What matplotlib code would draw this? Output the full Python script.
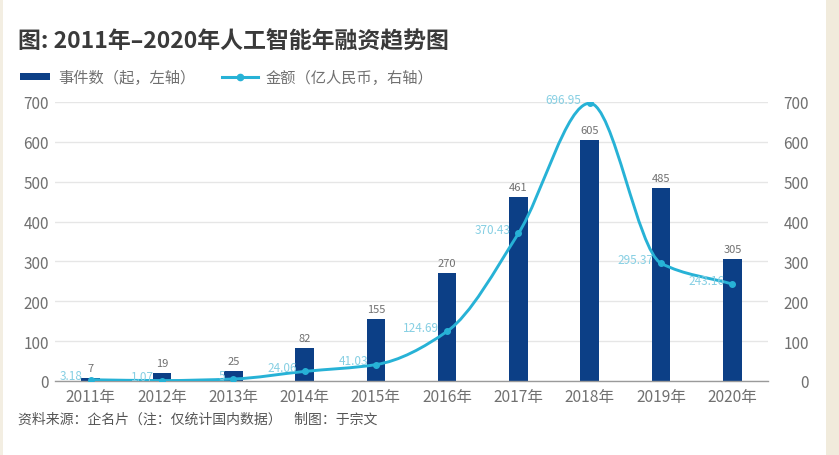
import numpy as np
import matplotlib
matplotlib.use("Agg")
import matplotlib.pyplot as plt
from matplotlib.path import Path
from matplotlib.patches import PathPatch, Rectangle
from matplotlib.lines import Line2D

plt.rcParams['font.family'] = ['Noto Sans CJK SC', 'DejaVu Sans']

years = ["2011年", "2012年", "2013年", "2014年", "2015年",
         "2016年", "2017年", "2018年", "2019年", "2020年"]
events = [7, 19, 25, 82, 155, 270, 461, 605, 485, 305]
amounts = [3.18, 1.07, 5, 24.06, 41.03, 124.69, 370.43, 696.95, 295.37, 243.16]
amount_labels = ["3.18", "1.07", "5", "24.06", "41.03", "124.69",
                 "370.43", "696.95", "295.37", "243.16"]
yticks = [0, 100, 200, 300, 400, 500, 600, 700]

title = "图: 2011年–2020年人工智能年融资趋势图"
legend_bar = "事件数（起，左轴）"
legend_line = "金额（亿人民币，右轴）"
footer = "资料来源：企名片（注：仅统计国内数据）    制图：于宗文"

BAR = "#0c3f86"
LINE = "#27b2d6"
LINE_LBL = "#86cfe3"
TXT = "#707070"

W, H = 839, 456
fig = plt.figure(figsize=(W / 100, H / 100), dpi=100)
fig.patch.set_facecolor("white")

# beige page edges
fig.patches.append(Rectangle((826 / W, 0), 1, 1, transform=fig.transFigure,
                             facecolor="#f1ebdc", edgecolor="none", zorder=0))
fig.patches.append(Rectangle((0, 0), 3 / W, 1, transform=fig.transFigure,
                             facecolor="#f3eee2", edgecolor="none", zorder=0))

left, right, bottom, top = 55 / W, 768 / W, 1 - 382 / H, 1 - 103 / H
ax = fig.add_axes([left, bottom, right - left, top - bottom])
ax2 = ax.twinx()

x = np.arange(len(years))
ax.bar(x, events, width=0.26, color=BAR, zorder=2)
for xi, v in zip(x, events):
    ax.annotate(str(v), (xi, v), xytext=(0, 5), textcoords="offset pixels",
                ha="center", va="bottom", fontsize=8, color=TXT)

ax.set_xlim(-0.5, len(years) - 0.5)
ax.set_ylim(0, 700)
ax2.set_ylim(0, 700)
ax.set_yticks(yticks)
ax2.set_yticks(yticks)
ax.set_xticks(x)
ax.set_xticklabels(years)
for a in (ax, ax2):
    for s in a.spines.values():
        s.set_visible(False)
ax.spines["bottom"].set_visible(True)
ax.spines["bottom"].set_color("#9a9a9a")
ax.spines["bottom"].set_linewidth(1.0)
ax.grid(axis="y", color="#e6e6e6", linewidth=1.0, zorder=0)
ax.set_axisbelow(True)
ax.tick_params(axis="y", length=0, pad=4.5, labelsize=11, labelcolor=TXT)
ax.tick_params(axis="x", length=0, pad=5, labelsize=11.2, labelcolor=TXT)
ax2.tick_params(axis="y", length=0, pad=29.5, labelsize=11, labelcolor=TXT)
for lb in ax2.get_yticklabels():
    lb.set_horizontalalignment("right")

# smooth monotone curve (cubic Bezier through data points)
xs = x.astype(float)
ys = np.array(amounts, dtype=float)
d = np.diff(ys) / np.diff(xs)
m = np.zeros_like(ys)
m[0], m[-1] = d[0], d[-1]
for i in range(1, len(ys) - 1):
    if d[i - 1] * d[i] <= 0:
        m[i] = 0.0
    else:
        m[i] = 2.0 / (1.0 / d[i - 1] + 1.0 / d[i])
verts = [(xs[0], ys[0])]
codes = [Path.MOVETO]
for i in range(len(xs) - 1):
    h = xs[i + 1] - xs[i]
    verts += [(xs[i] + h / 3, ys[i] + m[i] * h / 3),
              (xs[i + 1] - h / 3, ys[i + 1] - m[i + 1] * h / 3),
              (xs[i + 1], ys[i + 1])]
    codes += [Path.CURVE4] * 3
ax2.add_patch(PathPatch(Path(verts, codes), facecolor="none", edgecolor=LINE,
                        linewidth=2.1, zorder=5, capstyle="round"))
ax2.plot(xs, ys, "o", color=LINE, markersize=4, zorder=6)
for xi, v, t in zip(xs, ys, amount_labels):
    ax2.annotate(t, (xi, v), xytext=(-8, 4), textcoords="offset pixels",
                 ha="right", va="center", fontsize=8.5, color=LINE_LBL, zorder=7)

# title
fig.text(18 / W, 1 - 42 / H, title, fontsize=16.5, fontweight="bold",
         color="#3a3a3a", ha="left", va="center")

# legend
fig.patches.append(Rectangle((20 / W, 1 - 81 / H), 30 / W, 7 / H,
                             transform=fig.transFigure, facecolor=BAR,
                             edgecolor="none"))
fig.text(58 / W, 1 - 78 / H, legend_bar, fontsize=11, color=TXT,
         ha="left", va="center")
fig.lines.append(Line2D([222 / W, 258 / W], [1 - 78 / H, 1 - 78 / H],
                        transform=fig.transFigure, color=LINE, linewidth=2.2))
fig.lines.append(Line2D([240 / W], [1 - 78 / H], transform=fig.transFigure,
                        color=LINE, marker="o", markersize=4.5))
fig.text(266 / W, 1 - 78 / H, legend_line, fontsize=11, color=TXT,
         ha="left", va="center")

# footer
fig.text(18 / W, 1 - 420 / H, footer, fontsize=10, color="#555555",
         ha="left", va="center")

fig.savefig("out.png", dpi=100, facecolor=fig.get_facecolor())
